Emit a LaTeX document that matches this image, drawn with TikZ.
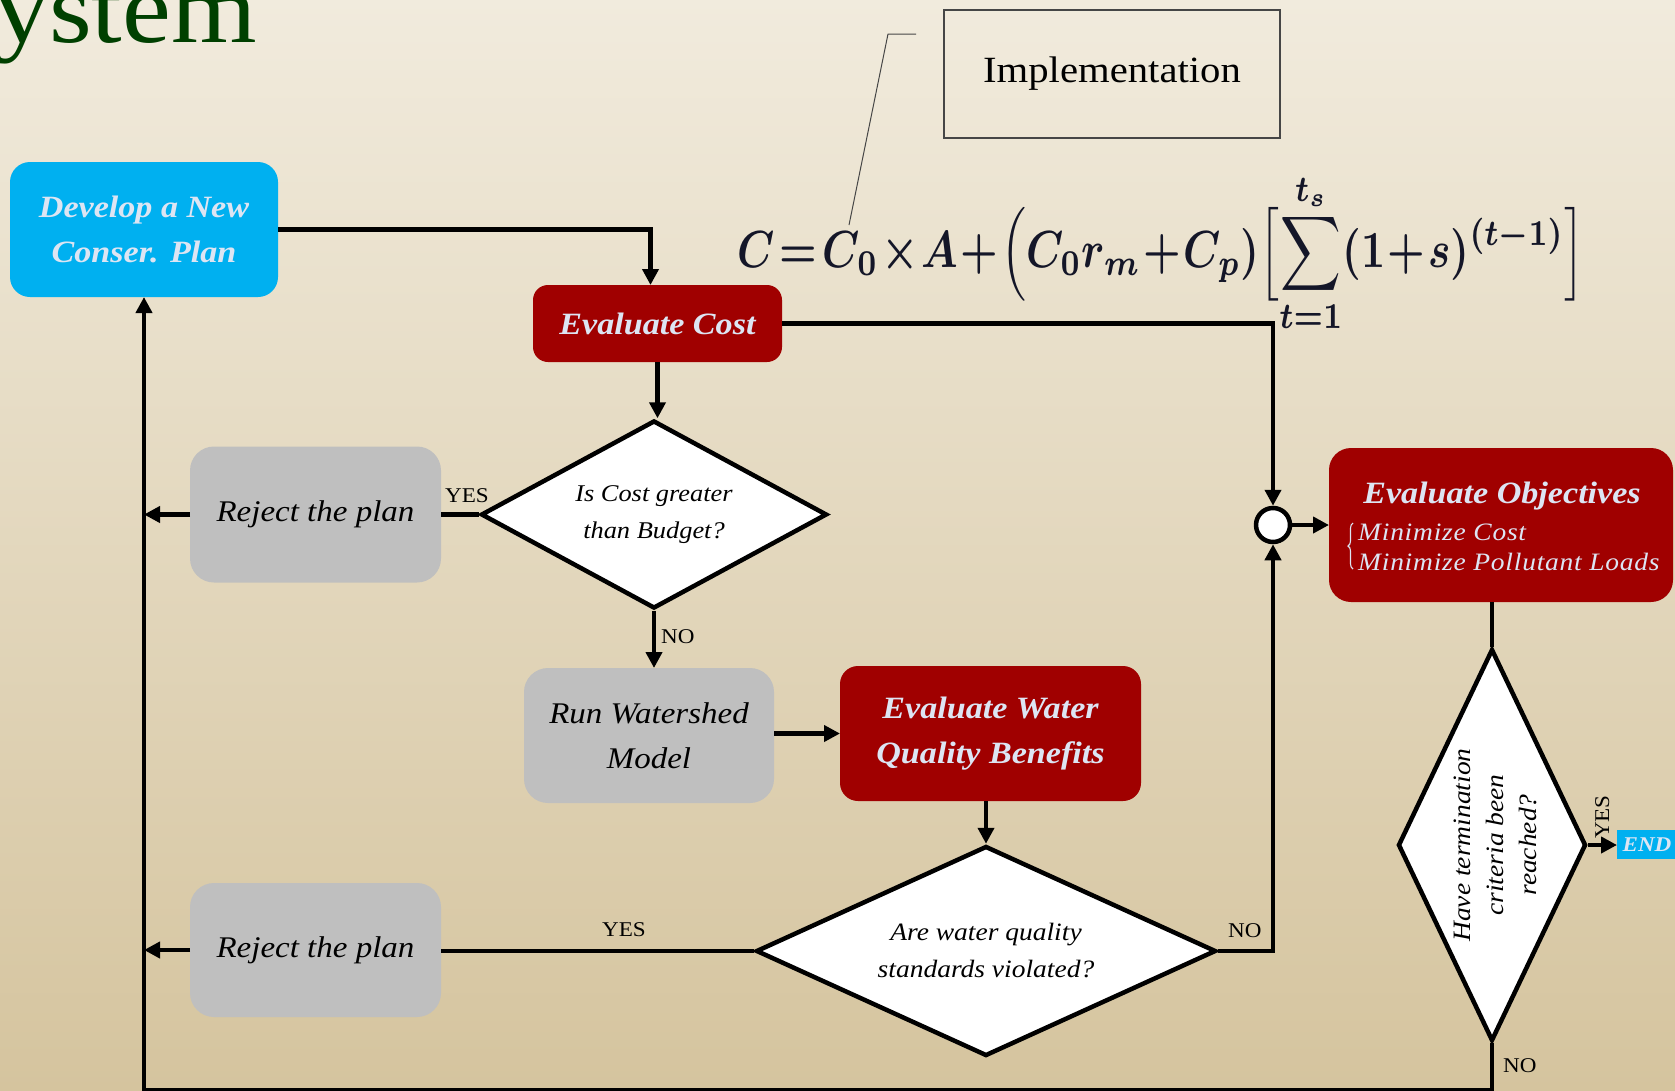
\documentclass[tikz,border=0pt]{standalone}
\usepackage{fontspec}
\setmainfont{Liberation Serif}[FakeStretch=1.1]
\usetikzlibrary{arrows.meta,shapes.geometric,decorations.pathreplacing,calc}

\definecolor{bgtop}{RGB}{241,235,221}
\definecolor{bgmid}{RGB}{228,215,188}
\definecolor{bgbot}{RGB}{213,196,158}
\definecolor{planred}{RGB}{160,0,0}
\definecolor{planblue}{RGB}{0,176,240}
\definecolor{plangray}{RGB}{191,191,191}
\definecolor{paletext}{RGB}{221,229,243}
\definecolor{titlegreen}{RGB}{0,64,0}
\definecolor{calloutgray}{RGB}{70,70,70}
\definecolor{formulaink}{RGB}{20,22,40}

\newcommand\setfs[2]{\fontsize{#1}{#2}\selectfont}

\begin{document}
\begin{tikzpicture}[x=1pt,y=-1pt,
  conn/.style={line width=4.5pt},
  arr/.style={conn,-{Triangle[length=16pt,width=16pt]}},
  boxbase/.style={inner sep=0pt, outer sep=0pt, align=center},
  redbox/.style={boxbase, fill=planred, text=paletext, rounded corners=18pt,
    font=\setfs{31}{45}\bfseries\itshape},
  bluebox/.style={boxbase, fill=planblue, text=paletext, rounded corners=20pt,
    font=\setfs{31}{45}\bfseries\itshape},
  graybox/.style={boxbase, fill=plangray, text=black, rounded corners=24pt,
    font=\setfs{30}{45}\itshape},
  decision/.style={diamond, draw=black, line width=4.5pt, fill=white, inner sep=0pt},
  question/.style={inner sep=0pt, align=center, text=black},
  answer/.style={inner sep=0pt, text=black, font=\setfs{21}{21}},
]

% page and background
\useasboundingbox (0,0) rectangle (1675,1090);
\shade[top color=bgtop, middle color=bgmid, bottom color=bgbot] (0,0) rectangle (1675,1090);

% slide title remnant
\node[anchor=base east, inner sep=0pt, text=titlegreen, font=\setfs{100}{100}] (ttl) at (257,42) {ystem};

% implementation callout and cost formula
\node[draw=calloutgray, line width=1.2pt, minimum width=336pt, minimum height=128pt,
      inner sep=0pt, font=\setfs{37}{40}] (impl) at (1112,74) {\raisebox{-4pt}{Implementation}};
\coordinate (c1) at (916,34);
\coordinate (c2) at (888,34);
\coordinate (c3) at (849,225);
\draw[calloutgray, line width=1pt] (c1) -- (c2) -- (c3);

\node[anchor=north west, inner sep=0pt, text=formulaink] (eq) at (737,173)
  {\resizebox*{847pt}{160pt}{\boldmath\medmuskip=1mu\thickmuskip=2mu\thinmuskip=0mu
   $\displaystyle C = C_0\times A + \Bigl(C_0 r_m + C_p)\Bigl[\sum_{t=1}^{t_s}(1+s)^{(t-1)}\Bigr]$}};

% process boxes
\node[bluebox, minimum width=268pt, minimum height=135pt] (dev) at (144,229.5) {Develop a New\\Conser. Plan};
\node[redbox, minimum width=249pt, minimum height=77pt, rounded corners=15pt] (cost) at (657.5,323.5) {Evaluate Cost};
\node[graybox, minimum width=251pt, minimum height=136pt] (r1) at (315.5,514.5) {Reject the plan};
\node[graybox, minimum width=250pt, minimum height=135pt] (run) at (649,735.5) {Run Watershed\\Model};
\node[redbox, minimum width=301pt, minimum height=135pt] (ewq) at (990.5,733.5) {Evaluate Water\\Quality Benefits};
\node[graybox, minimum width=251pt, minimum height=134pt] (r2) at (315.5,950) {Reject the plan};
\node[redbox, minimum width=344pt, minimum height=154pt, rounded corners=22pt] (obj) at (1501,525) {};
\node[anchor=base, inner sep=0pt, text=paletext, font=\setfs{31}{31}\bfseries\itshape] (objt) at (1502,503) {Evaluate Objectives};
\node[anchor=base west, inner sep=0pt, text=paletext, font=\setfs{25}{30}\itshape\addfontfeature{LetterSpace=3}] (objl1) at (1358,540) {Minimize Cost};
\node[anchor=base west, inner sep=0pt, text=paletext, font=\setfs{25}{30}\itshape\addfontfeature{LetterSpace=3}] (objl2) at (1358,570) {Minimize Pollutant Loads};
\draw[paletext, line width=1.1pt, decorate, decoration={brace, amplitude=5pt}] (1353,569) -- (1353,523);
\node[boxbase, fill=planblue, text=paletext, minimum width=60pt, minimum height=29pt, anchor=west,
      font=\setfs{21}{21}\bfseries\itshape] (endn) at (1617,844.5) {END};

% merge point
\node[circle, draw=black, fill=white, line width=4.5pt, minimum size=34pt, inner sep=0pt] (junc) at (1273,525) {};

% decisions
\node[decision, minimum width=346pt, minimum height=188pt] (d1) at (654,514.5) {};
\node[question, font=\setfs{24}{37}\itshape] (d1t) at (654,515) {Is Cost greater\\than Budget?};
\node[decision, minimum width=460pt, minimum height=210pt] (d2) at (986,951) {};
\node[question, font=\setfs{25}{37}\itshape] (d2t) at (986,950) {Are water quality\\standards violated?};
\node[decision, minimum width=188pt, minimum height=392pt] (d3) at (1492,845) {};
\node[question, rotate=90, font=\setfs{25}{33}\itshape] (d3t) at (1495,845) {Have termination\\criteria been\\reached?};

% answer labels
\node[answer, anchor=base west] (y1) at (445,502) {YES};
\node[answer, anchor=base west] (n1) at (661,643) {NO};
\node[answer, anchor=base] (y2) at (624,936) {YES};
\node[answer, anchor=base west] (n2) at (1228,937) {NO};
\node[answer, anchor=base, rotate=90] (y3) at (1609,817) {YES};
\node[answer, anchor=base west] (n3) at (1503,1072) {NO};

% connectors
\coordinate (bl) at (144,1090);
\draw[arr] (dev.east) -| ([xshift=-7pt]cost.north);
\draw[arr] (cost.south) -- (cost.south |- d1.north);
\draw[arr] (cost.east) -| (junc.north);
\draw[conn] (d1.west) -- (r1.east);
\draw[arr] (r1.west) -- (r1.west -| bl);
\draw[arr] (d1.south) -- (d1.south |- run.north);
\draw[arr] (ewq.west -| run.east) -- (ewq.west);
\draw[arr] (d2.north |- ewq.south) -- (d2.north);
\draw[conn] (d2.west) -- (d2.west -| r2.east);
\draw[arr] (r2.west) -- (r2.west -| bl);
\draw[arr] (d2.east) -| (junc.south);
\draw[arr] (junc.east) -- (junc.east -| obj.west);
\draw[conn] (d3.north |- obj.south) -- (d3.north);
\draw[arr] (d3.east) -- (d3.east -| endn.west);
\draw[arr] (d3.south) -- (d3.south |- bl) -- (bl) -- (dev.south);

\end{tikzpicture}
\end{document}
